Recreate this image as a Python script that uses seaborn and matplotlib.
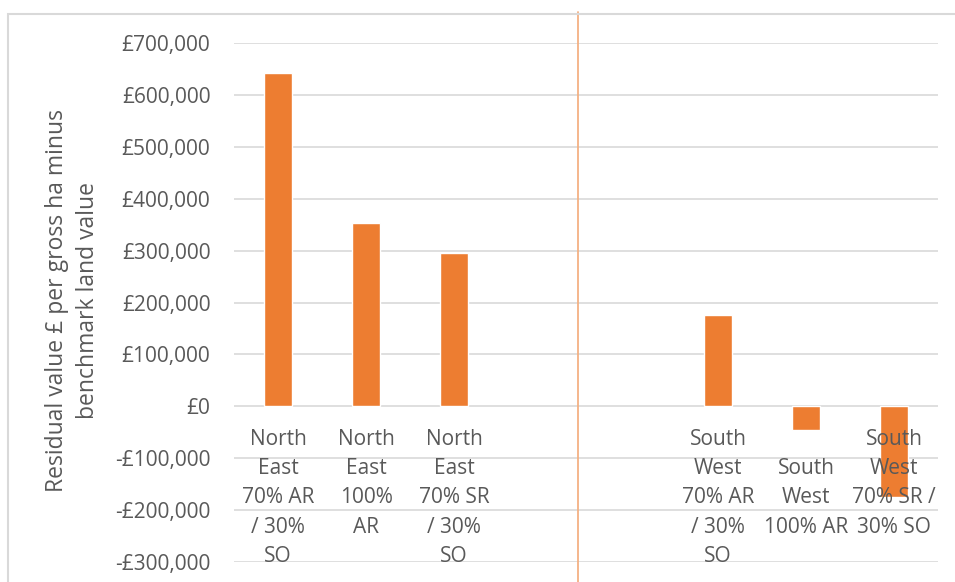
import matplotlib
matplotlib.use("Agg")
import matplotlib.pyplot as plt
from matplotlib.ticker import FuncFormatter, MultipleLocator
from matplotlib.patches import Rectangle
import seaborn as sns
import pandas as pd

# Residual value per gross hectare minus benchmark land value, by scenario
categories = [
    "North\nEast\n70% AR\n/ 30%\nSO",
    "North\nEast\n100%\nAR",
    "North\nEast\n70% SR\n/ 30%\nSO",
    "South\nWest\n70% AR\n/ 30%\nSO",
    "\nSouth\nWest\n100% AR",
    "South\nWest\n70% SR /\n30% SO",
]
values = [642000, 353000, 295000, 175000, -45000, -175000]

# Two empty slots separate the North East and South West groups
spacers = ["gap_a", "gap_b"]
order = categories[:3] + spacers + categories[3:]

df = pd.DataFrame({"scenario": categories, "value": values})

sns.set_theme(style="white")
plt.rcParams["font.family"] = ["Open Sans", "DejaVu Sans"]

TEXT = "#595959"
GRID = "#D9D9D9"
BAR = "#ED7D31"

W, H = 955, 582
fig = plt.figure(figsize=(W / 100, H / 100), dpi=100)
ax = fig.add_axes([234 / W, 1 - 562 / H, (938 - 234) / W, (562 - 43) / H])

sns.barplot(data=df, x="scenario", y="value", order=order, color=BAR,
            width=0.31, saturation=1, ax=ax, zorder=3)

ax.set_ylim(-300000, 700000)
ax.yaxis.set_major_locator(MultipleLocator(100000))
ax.yaxis.set_major_formatter(FuncFormatter(
    lambda v, _: f"-£{abs(v):,.0f}" if v < 0 else f"£{v:,.0f}"))
ax.grid(axis="y", color=GRID, linewidth=1.2)
ax.grid(axis="x", visible=False)
for s in ax.spines.values():
    s.set_visible(False)

# Gridlines sit behind the bars, category labels in front of them
ax.yaxis.set_zorder(0.5)
ax.xaxis.set_zorder(5)

# Category labels hang just below the zero line
ax.spines["bottom"].set_position(("data", 0))
labels = [lab if lab not in spacers else "" for lab in order]
ax.set_xticks(range(len(order)))
ax.set_xticklabels(labels, linespacing=1.53)
ax.tick_params(axis="x", length=0, pad=16, labelsize=15, labelcolor=TEXT)
ax.tick_params(axis="y", length=0, pad=17, labelsize=15, labelcolor=TEXT)
ax.set_xlabel("")

ax.set_ylabel("Residual value £ per gross ha minus\nbenchmark land value",
              fontsize=16.5, color=TEXT, va="center", linespacing=1.38)
ax.yaxis.set_label_coords(-0.229, 0.503)

# Divider between the two regions
ax.axvline(3.405, ymin=-0.05, ymax=(562 - 12) / (562 - 43), color="#F4B183",
           linewidth=1.3, clip_on=False, zorder=4)

# Chart frame
fig.patches.append(Rectangle((7.5 / W, -0.1), 1.2, 1 - 14 / H + 0.1,
                             transform=fig.transFigure, fill=False,
                             edgecolor=GRID, linewidth=1.5))

fig.savefig("out.png", dpi=100)
